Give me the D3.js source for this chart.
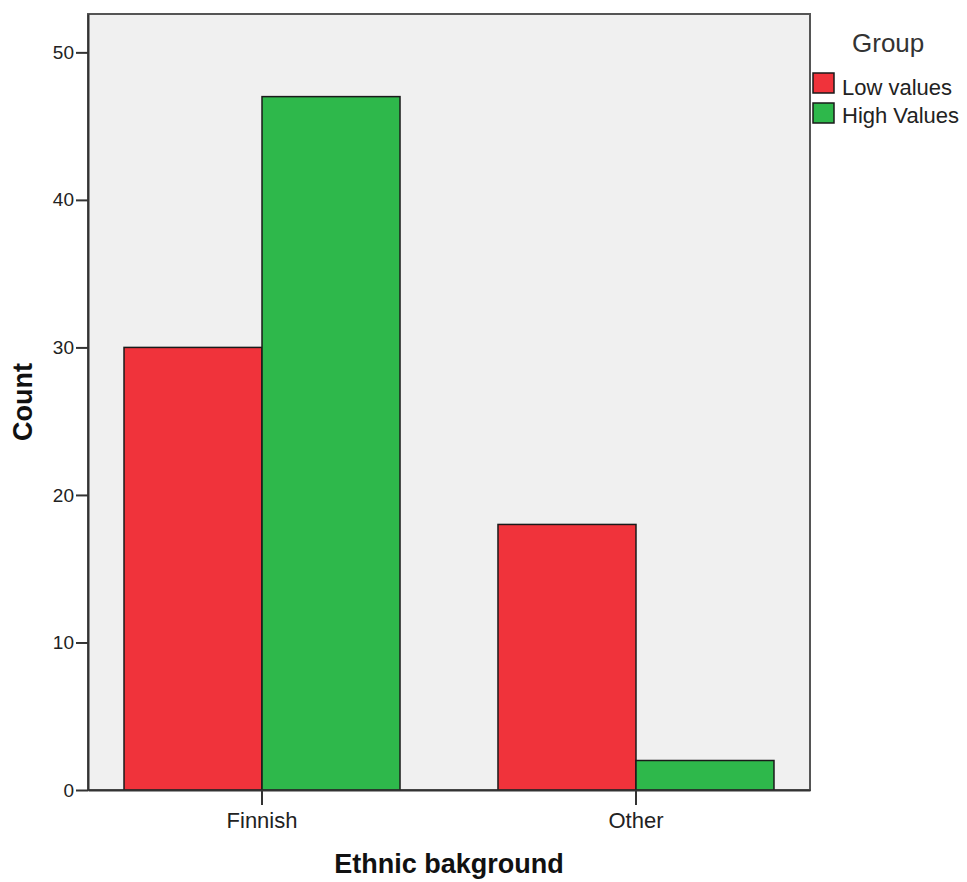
<!DOCTYPE html>
<html>
<head>
<meta charset="utf-8">
<script src="https://cdn.jsdelivr.net/npm/d3@7"></script>
<style>
  body { margin: 0; background: #fff; }
  svg { display: block; }
  text { font-family: "Liberation Sans", Arial, sans-serif; }
</style>
</head>
<body>
<div id="chart"></div>
<script>
const categories = ["Finnish", "Other"];
const groups = ["Low values", "High Values"];
const lowValues = [30, 18];
const highValues = [47, 2];
const yTicks = [0, 10, 20, 30, 40, 50];
const yMax = 52.6;
const colors = ["#f0333b", "#2eb84b"];

const W = 967, H = 882;
const m = { left: 88, right: 810, top: 14, bottom: 790 };

const svg = d3.select("#chart").append("svg").attr("width", W).attr("height", H);

const x = d3.scaleBand().domain(categories).range([m.left, m.right])
  .paddingInner(0.262).paddingOuter(0.0963);
const xs = d3.scaleBand().domain(groups).range([0, x.bandwidth()]);
const y = d3.scaleLinear().domain([0, yMax]).range([m.bottom, m.top]);

// plot background
svg.append("rect").attr("x", m.left).attr("y", m.top)
  .attr("width", m.right - m.left).attr("height", m.bottom - m.top)
  .attr("fill", "#f0f0f0").attr("stroke", "#555").attr("stroke-width", 2);

const data = [];
categories.forEach((c, i) => {
  data.push({ cat: c, grp: groups[0], v: lowValues[i], col: colors[0] });
  data.push({ cat: c, grp: groups[1], v: highValues[i], col: colors[1] });
});

svg.append("g").selectAll("rect").data(data).join("rect")
  .attr("x", d => x(d.cat) + xs(d.grp))
  .attr("y", d => y(d.v))
  .attr("width", xs.bandwidth())
  .attr("height", d => y(0) - y(d.v))
  .attr("fill", d => d.col)
  .attr("stroke", "#1a1a1a").attr("stroke-width", 1.5);

// y axis
const yAxis = svg.append("g").attr("transform", `translate(${m.left},0)`)
  .call(d3.axisLeft(y).tickValues(yTicks).tickFormat(d3.format("d")).tickSize(12).tickSizeOuter(0).tickPadding(2));
yAxis.select(".domain").attr("stroke", "#333").attr("stroke-width", 2);
yAxis.selectAll(".tick line").attr("stroke", "#333").attr("stroke-width", 2);
yAxis.selectAll(".tick text").attr("font-size", 19).attr("fill", "#222")
  .attr("font-family", "Liberation Sans, Arial, sans-serif");

// x axis
const xAxis = svg.append("g").attr("transform", `translate(0,${m.bottom})`)
  .call(d3.axisBottom(x).tickSize(15).tickSizeOuter(0).tickPadding(7));
xAxis.select(".domain").attr("stroke", "#333").attr("stroke-width", 2);
xAxis.selectAll(".tick line").attr("stroke", "#333").attr("stroke-width", 2);
xAxis.selectAll(".tick text").attr("font-size", 22).attr("fill", "#222")
  .attr("font-family", "Liberation Sans, Arial, sans-serif");

// axis titles
svg.append("text").attr("transform", `translate(32,${(m.top + m.bottom) / 2}) rotate(-90)`)
  .attr("text-anchor", "middle").attr("font-size", 27).attr("font-weight", "bold")
  .attr("fill", "#111").text("Count");
svg.append("text").attr("x", (m.left + m.right) / 2).attr("y", 873)
  .attr("text-anchor", "middle").attr("font-size", 27).attr("font-weight", "bold")
  .attr("fill", "#111").text("Ethnic bakground");

// legend
const lg = svg.append("g");
lg.append("text").attr("x", 852).attr("y", 52).attr("font-size", 26).attr("fill", "#333").text("Group");
groups.forEach((g, i) => {
  lg.append("rect").attr("x", 813).attr("y", 73 + i * 30).attr("width", 21).attr("height", 20)
    .attr("fill", colors[i]).attr("stroke", "#1a1a1a").attr("stroke-width", 1.5);
  lg.append("text").attr("x", 842).attr("y", 95 + i * 28).attr("font-size", 22)
    .attr("fill", "#222").text(g);
});
</script>
</body>
</html>
